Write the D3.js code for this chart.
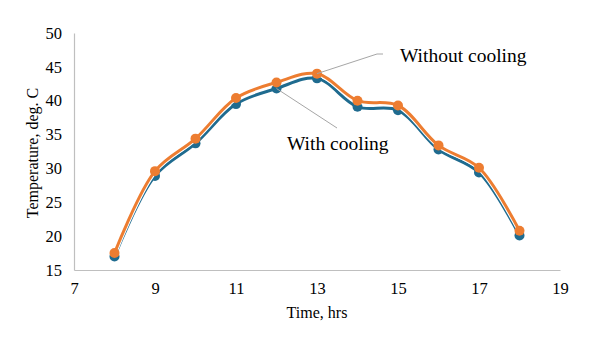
<!DOCTYPE html>
<html lang="en">
<head>
    <style>
        body { margin: 0; background: #fff; }
        svg { display: block; }
        text { font-family: "Liberation Serif", "Times New Roman", serif; fill: #000; }
    </style>
</head>
<body>
    <svg width="614" height="350"></svg>
    <script src="https://cdn.jsdelivr.net/npm/d3@7/dist/d3.min.js"></script>
    <script>
        // Data
        const hours = [8, 9, 10, 11, 12, 13, 14, 15, 16, 17, 18];
        const withCooling = [17.0, 28.9, 33.7, 39.5, 41.8, 43.3, 39.1, 38.6, 32.8, 29.4, 20.1];
        const withoutCooling = [17.5, 29.6, 34.4, 40.4, 42.7, 44.0, 40.0, 39.3, 33.4, 30.1, 20.8];
        const xTicks = [7, 9, 11, 13, 15, 17, 19];
        const yTicks = [15, 20, 25, 30, 35, 40, 45, 50];

        const svg = d3.select("svg");
        const plotLeft = 74, plotRight = 560, plotTop = 33, plotBottom = 270;

        const x = d3.scaleLinear().domain([7, 19]).range([plotLeft, plotRight]);
        const y = d3.scaleLinear().domain([15, 50]).range([plotBottom, plotTop]);

        /* Axes */
        const xAxis = svg.append("g")
            .attr("transform", `translate(0, ${plotBottom})`)
            .call(d3.axisBottom(x).tickValues(xTicks).tickSize(0).tickPadding(12));
        const yAxis = svg.append("g")
            .attr("transform", `translate(${plotLeft}, 0)`)
            .call(d3.axisLeft(y).tickValues(yTicks).tickSize(0).tickPadding(12));
        [xAxis, yAxis].forEach(a => {
            a.attr("font-family", "Liberation Serif").attr("font-size", 16.5);
            a.select(".domain").attr("stroke", "#bfbfbf").attr("stroke-width", 1.2);
            a.selectAll("text").attr("fill", "#000");
        });

        // Axis titles
        svg.append("text")
            .attr("x", 317).attr("y", 318)
            .attr("text-anchor", "middle")
            .style("font-size", "16px")
            .text("Time, hrs");
        svg.append("text")
            .attr("transform", "translate(38, 153) rotate(-90)")
            .attr("text-anchor", "middle")
            .style("font-size", "16px")
            .text("Temperature, deg. C");

        /* Series */
        const series = [
            { name: "With cooling", values: withCooling, color: "#1f6b8f" },
            { name: "Without cooling", values: withoutCooling, color: "#ed7d31" }
        ];
        const line = d3.line()
            .x(d => x(d[0]))
            .y(d => y(d[1]))
            .curve(d3.curveCatmullRom.alpha(0.5));

        series.forEach(s => {
            const pts = hours.map((h, i) => [h, s.values[i]]);
            const g = svg.append("g");
            g.append("path")
                .datum(pts)
                .attr("fill", "none")
                .attr("stroke", "#fff")
                .attr("stroke-width", 5)
                .attr("d", line);
            g.append("path")
                .datum(pts)
                .attr("fill", "none")
                .attr("stroke", s.color)
                .attr("stroke-width", 3)
                .attr("d", line);
            g.selectAll("circle")
                .data(pts)
                .enter()
                .append("circle")
                .attr("cx", d => x(d[0]))
                .attr("cy", d => y(d[1]))
                .attr("r", 5)
                .attr("fill", s.color);
        });

        /* Labels with leader lines */
        const i13 = hours.indexOf(13), i12 = hours.indexOf(12);
        const p1 = [x(13), y(withoutCooling[i13])];
        svg.append("polyline")
            .attr("points", [p1, [377, 54], [383, 54]].map(p => p.join(",")).join(" "))
            .attr("fill", "none")
            .attr("stroke", "#a6a6a6")
            .attr("stroke-width", 1);
        svg.append("text")
            .attr("x", 400).attr("y", 62)
            .style("font-size", "19.5px")
            .text("Without cooling");

        const p2 = [x(12), y(withCooling[i12])];
        svg.append("line")
            .attr("x1", p2[0]).attr("y1", p2[1])
            .attr("x2", 337).attr("y2", 128)
            .attr("stroke", "#a6a6a6")
            .attr("stroke-width", 1);
        svg.append("text")
            .attr("x", 287).attr("y", 150)
            .style("font-size", "19.5px")
            .text("With cooling");
    </script>
</body>
</html>
